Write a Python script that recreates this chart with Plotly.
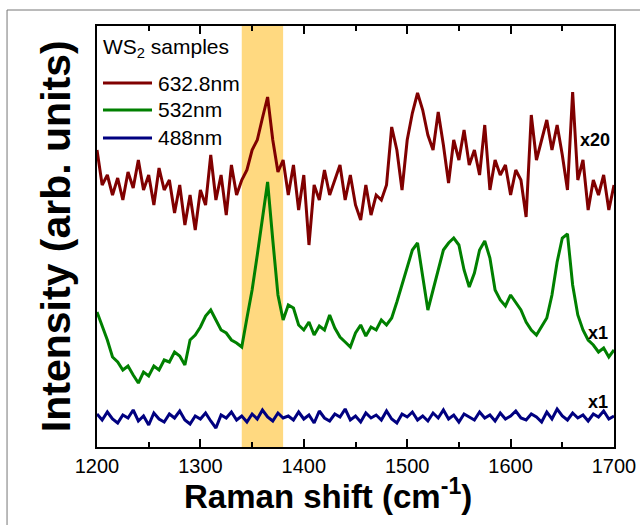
import plotly.graph_objects as go

# Raman shift axis (cm^-1)
raman_shift = list(range(1200, 1701, 5))

# Intensities (arbitrary units, offset stacked as in the figure)
int_633 = [297, 262, 272, 252, 269, 247, 275, 259, 287, 257,
           272, 242, 279, 257, 267, 234, 262, 222, 252, 217,
           257, 242, 292, 247, 272, 232, 282, 252, 267, 277,
           297, 307, 329, 350, 307, 275, 287, 252, 282, 237,
           272, 202, 262, 247, 277, 252, 267, 282, 247, 272,
           242, 227, 262, 232, 252, 247, 262, 320, 297, 257,
           307, 334, 354, 337, 312, 297, 335, 302, 264, 307,
           287, 317, 282, 297, 272, 322, 257, 287, 272, 282,
           252, 277, 267, 230, 332, 287, 307, 327, 297, 322,
           292, 257, 355, 267, 287, 237, 267, 252, 272, 237,
           262]

int_532 = [135, 122, 107, 90, 85, 77, 81, 72, 64, 75,
           71, 81, 77, 87, 85, 95, 91, 82, 107, 112,
           120, 131, 137, 127, 117, 114, 107, 104, 100, 129,
           157, 192, 227, 265, 207, 152, 127, 142, 139, 122,
           117, 125, 112, 121, 117, 132, 119, 110, 105, 100,
           114, 122, 111, 120, 117, 127, 122, 129, 145, 162,
           179, 197, 204, 172, 137, 157, 177, 197, 204, 209,
           202, 177, 160, 174, 197, 206, 189, 157, 147, 141,
           152, 144, 137, 125, 117, 112, 121, 129, 152, 185,
           209, 213, 162, 132, 117, 107, 102, 95, 99, 90,
           97]

int_488 = [33, 27, 35, 28, 24, 32, 29, 37, 26, 31,
           22, 34, 28, 25, 33, 29, 36, 27, 23, 31,
           28, 34, 26, 19, 32, 29, 35, 27, 31, 25,
           33, 28, 37, 30, 26, 34, 29, 31, 27, 35,
           28, 32, 24, 36, 29, 26, 33, 30, 38, 27,
           31, 25, 34, 29, 32, 27, 36, 28, 24, 33,
           30, 35, 27, 31, 26, 34, 29, 37, 28, 32,
           25, 33, 30, 27, 35, 29, 32, 26, 34, 28,
           31, 36, 29, 27, 33, 30, 25, 35, 28, 38,
           31, 27, 34, 29, 32, 26, 33, 30, 36, 28,
           31]

series_names = ["632.8nm", "532nm", "488nm"]
series_colors = ["#800000", "#008000", "#000080"]
scale_labels = ["x20", "x1", "x1"]
label_pos = [(1665, 307), (1673, 114), (1673, 45)]
band = (1340, 1380)
x_ticks = [1200, 1300, 1400, 1500, 1600, 1700]
legend_title = "WS<sub>2</sub> samples"

FONT = "Liberation Sans, Arial, sans-serif"

fig = go.Figure()
for name, ys, col in zip(series_names, [int_633, int_532, int_488], series_colors):
    fig.add_trace(go.Scatter(x=raman_shift, y=ys, mode="lines", name=name,
                             line=dict(color=col, width=3), showlegend=False))

fig.add_vrect(x0=band[0], x1=band[1], fillcolor="#FFD980", opacity=1,
              line_width=0, layer="below")

for txt, (xx, yy) in zip(scale_labels, label_pos):
    fig.add_annotation(x=xx, y=yy, text="<b>" + txt + "</b>", showarrow=False,
                       xanchor="left", yanchor="middle",
                       font=dict(family=FONT, size=18, color="black"))

# legend (heading + one row per spectrum), drawn in paper coordinates
fig.add_annotation(xref="paper", yref="paper", x=0.008, y=0.948,
                   text=legend_title, showarrow=False,
                   xanchor="left", yanchor="middle",
                   font=dict(family=FONT, size=21, color="black"))
legend_rows_y = [0.8646, 0.8005, 0.734]
for name, col, ly in zip(series_names, series_colors, legend_rows_y):
    fig.add_shape(type="line", xref="paper", yref="paper", x0=0.0116, x1=0.1064,
                  y0=ly, y1=ly, line=dict(color=col, width=3))
    fig.add_annotation(xref="paper", yref="paper", x=0.114, y=ly, text=name,
                       showarrow=False, xanchor="left", yanchor="middle",
                       font=dict(family=FONT, size=21, color="black"))

# axis titles (placed as annotations to match the original placement)
fig.add_annotation(xref="paper", yref="paper", x=0.447, y=-0.112,
                   text="<b>Raman shift (cm<sup>-1</sup>)</b>", showarrow=False,
                   xanchor="center", yanchor="middle",
                   font=dict(family=FONT, size=33, color="black"))
fig.add_annotation(xref="paper", yref="paper", x=-0.08, y=0.5,
                   text="<b>Intensity (arb. units)</b>", showarrow=False,
                   textangle=-90, xanchor="center", yanchor="middle",
                   font=dict(family=FONT, size=41, color="black"))

# outer frame of the figure panel
fig.add_shape(type="rect", xref="paper", yref="paper", x0=-0.174, x1=1.3,
              y0=-0.4, y1=1.038, line=dict(color="#777777", width=1), layer="below")

fig.update_layout(
    width=640, height=525,
    margin=dict(l=97, r=26, t=26, b=78, autoexpand=False),
    paper_bgcolor="white", plot_bgcolor="white",
    font=dict(family=FONT, color="black"),
    showlegend=False,
    xaxis=dict(range=[1200, 1700], tickvals=x_ticks, ticks="inside", ticklen=8,
               tickwidth=1.5, tickcolor="black", showline=True, linewidth=2,
               linecolor="black", mirror="ticks", showgrid=False, zeroline=False,
               automargin=False, tickfont=dict(size=20, family=FONT),
               minor=dict(dtick=50, ticks="inside", ticklen=5, tickwidth=1.5, tickcolor="black")),
    yaxis=dict(range=[0, 421], showticklabels=False, ticks="", showline=True,
               linewidth=2, linecolor="black", mirror=True, showgrid=False,
               zeroline=False, automargin=False),
)

fig.write_html("out.html", config={"displayModeBar": False},
               post_script="document.body.style.margin='0';document.body.style.overflow='hidden';")
